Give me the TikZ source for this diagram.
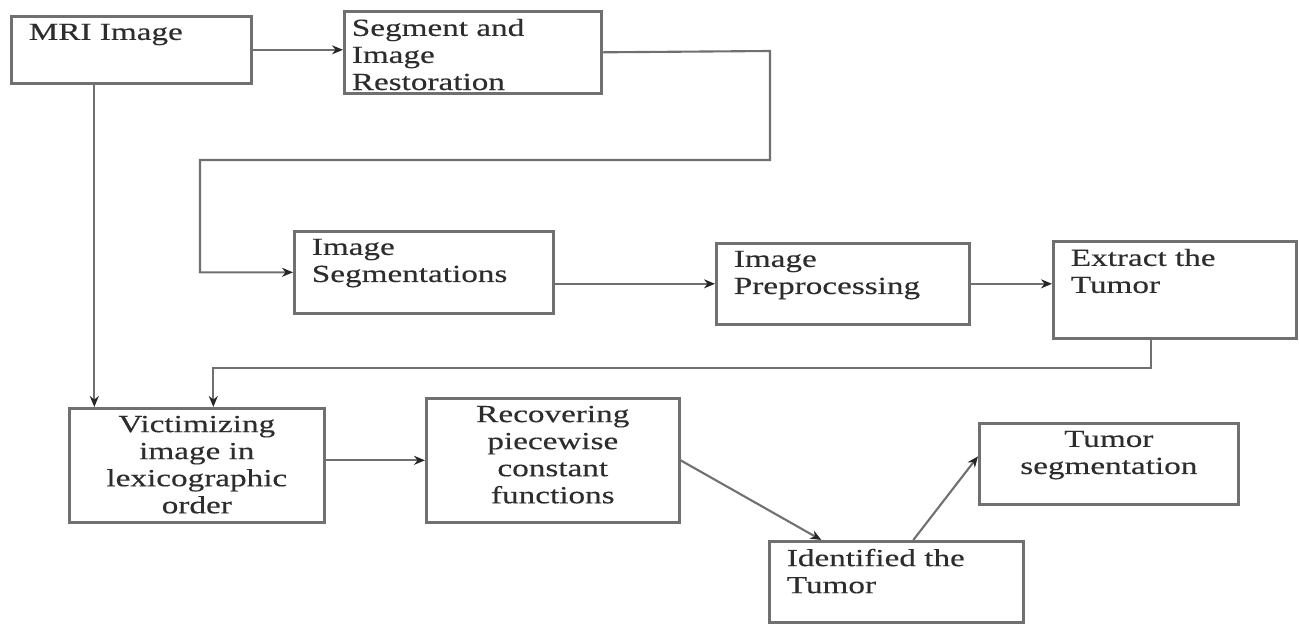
\documentclass[tikz,border=0pt]{standalone}
\usepackage{fontspec}
\setmainfont{Liberation Serif}[FakeStretch=1.35, FakeBold=0.3]
\usetikzlibrary{arrows.meta, calc, positioning}
\definecolor{linegray}{RGB}{112,112,112}
\definecolor{textgray}{RGB}{45,45,45}
\newcommand{\stagetext}[3]{\parbox[t][#2][t]{#1}{\raggedright #3}}

\begin{document}
\begin{tikzpicture}[>={Stealth[length=2.2mm,width=1.8mm,color=black!85]},
    stage/.style={draw=linegray, line width=1.5pt, anchor=north west, inner xsep=0.35cm, inner ysep=0.15cm,
        text=textgray, font=\fontsize{14pt}{15.4pt}\selectfont},
    flow/.style={->, draw=linegray, line width=1.2pt}]
    \useasboundingbox (0,0) rectangle (26,12.46);

    % Top row
    \node[stage] (mri) at (0.2,12.16) {\stagetext{4.1cm}{1.04cm}{MRI Image}};
    \node[stage, inner xsep=0.15cm] (restore) at (6.86,12.26) {\stagetext{4.84cm}{1.34cm}{Segment and\\ Image\\ Restoration}};

    % Middle row
    \node[stage] (segs) at (5.86,7.86) {\stagetext{4.48cm}{1.34cm}{Image\\ Segmentations}};
    \node[stage] (prep) at (14.3,7.62) {\stagetext{4.36cm}{1.32cm}{Image\\ Preprocessing}};
    \node[stage] (extract) at (21.04,7.66) {\stagetext{4.16cm}{1.64cm}{Extract the\\ Tumor}};

    % Bottom row
    \node[stage] (victim) at (1.36,4.32) {\stagetext{4.4cm}{1.98cm}{\centering Victimizing\\ image in\\ lexicographic\\ order}};
    \node[stage] (recover) at (8.5,4.52) {\stagetext{4.36cm}{2.18cm}{\centering Recovering\\ piecewise\\ constant\\ functions}};
    \node[stage] (tumseg) at (19.56,4.02) {\stagetext{4.48cm}{1.32cm}{\centering Tumor\\ segmentation}};
    \node[stage] (ident) at (15.36,1.66) {\stagetext{4.38cm}{1.32cm}{Identified the\\ Tumor}};

    % Arrows
    \draw[flow] (mri.east) -- (mri.east -| restore.west);
    \draw[flow] (restore.east) -- (15.4,11.44) -- (15.4,9.26) -- (4.0,9.26) |- (segs.west);
    \draw[flow] (segs.east |- prep.west) -- (prep.west);
    \draw[flow] (prep.east) -- (prep.east -| extract.west);
    \draw[flow] ([xshift=-0.47cm]extract.south) -- ++(0,-0.56) -| ([xshift=0.33cm]victim.north);
    \draw[flow] ([xshift=-0.74cm]mri.south) -- ([xshift=-0.74cm]mri.south |- victim.north);
    \draw[flow] (victim.east |- recover.west) -- (recover.west);
    \draw[flow] (recover.east) -- ([xshift=-1.5cm]ident.north);
    \draw[flow] ([xshift=0.34cm]ident.north) -- ([yshift=0.15cm]tumseg.west);
\end{tikzpicture}
\end{document}
